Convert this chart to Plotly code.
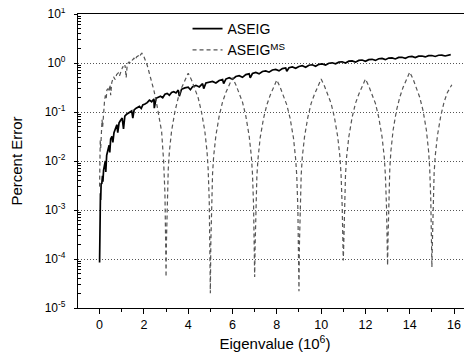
import plotly.graph_objects as go

# ---------------- data ----------------
aseig_x = [0.00, 0.02, 0.04, 0.05, 0.07, 0.10, 0.13, 0.15, 0.18, 0.22, 0.26, 0.28, 0.32, 0.38,
           0.43, 0.46, 0.50, 0.56, 0.60, 0.65, 0.72, 0.78, 0.82, 0.88, 0.95, 1.02, 1.08, 1.14,
           1.22, 1.30, 1.38, 1.45, 1.50, 1.56, 1.65, 1.72, 1.80, 1.88, 1.95, 2.05, 2.15, 2.25,
           2.35, 2.45, 2.47, 2.55, 2.65, 2.75, 2.85, 2.95, 3.05, 3.15, 3.25, 3.35, 3.45, 3.55,
           3.60, 3.70, 3.85, 4.00, 4.10, 4.20, 4.35, 4.50, 4.65, 4.70, 4.80, 4.95, 5.10, 5.25,
           5.40, 5.55, 5.60, 5.70, 5.85, 6.00, 6.15, 6.30, 6.45, 6.60, 6.75, 6.80, 6.90, 7.05,
           7.20, 7.35, 7.50, 7.65, 7.80, 7.95, 8.10, 8.25, 8.40, 8.45, 8.55, 8.70, 8.85, 9.00,
           9.15, 9.30, 9.45, 9.60, 9.75, 9.90, 10.05, 10.20, 10.35, 10.50, 10.65, 10.80, 10.95,
           11.10, 11.25, 11.40, 11.55, 11.70, 11.85, 12.00, 12.15, 12.30, 12.45, 12.60, 12.75,
           12.90, 13.05, 13.20, 13.35, 13.50, 13.65, 13.80, 13.95, 14.10, 14.25, 14.40, 14.55,
           14.70, 14.85, 15.00, 15.15, 15.30, 15.45, 15.60, 15.75, 15.85]
aseig_y = [8.5e-5, 1.0e-3, 2.2e-3, 1.6e-3, 3.5e-3, 3.4e-3, 5.0e-3, 3.8e-3, 6.5e-3, 8.0e-3, 1.0e-2, 6.0e-3, 1.3e-2, 1.7e-2,
           2.1e-2, 1.5e-2, 2.8e-2, 3.2e-2, 2.4e-2, 3.8e-2, 4.5e-2, 5.5e-2, 3.8e-2, 6.0e-2, 6.8e-2, 7.5e-2, 4.5e-2, 8.2e-2,
           9.0e-2, 9.4e-2, 1.0e-1, 1.05e-1, 7.5e-2, 1.1e-1, 1.2e-1, 1.25e-1, 1.3e-1, 1.18e-1, 1.4e-1, 1.45e-1, 1.55e-1, 1.75e-1,
           1.62e-1, 1.85e-1, 1.2e-1, 1.9e-1, 2.0e-1, 2.1e-1, 1.95e-1, 2.3e-1, 2.4e-1, 2.2e-1, 2.5e-1, 2.6e-1, 2.45e-1, 2.8e-1,
           2.1e-1, 2.9e-1, 3.1e-1, 3.2e-1, 2.85e-1, 3.3e-1, 3.5e-1, 3.25e-1, 3.8e-1, 3.0e-1, 3.9e-1, 4.0e-1, 4.2e-1, 3.9e-1,
           4.4e-1, 4.6e-1, 3.8e-1, 4.7e-1, 5.0e-1, 4.65e-1, 5.3e-1, 5.5e-1, 5.1e-1, 5.8e-1, 6.0e-1, 5.0e-1, 6.1e-1, 6.4e-1,
           6.0e-1, 6.7e-1, 6.9e-1, 6.5e-1, 7.2e-1, 7.4e-1, 6.9e-1, 7.7e-1, 7.9e-1, 6.8e-1, 8.0e-1, 8.3e-1, 7.8e-1, 8.5e-1,
           8.8e-1, 8.2e-1, 9.0e-1, 9.2e-1, 8.6e-1, 9.4e-1, 9.6e-1, 9.1e-1, 9.9e-1, 1.01, 0.96, 1.04, 1.06,
           1.0, 1.09, 1.1, 1.04, 1.13, 1.15, 1.08, 1.17, 1.19, 1.13, 1.22, 1.24,
           1.17, 1.26, 1.27, 1.21, 1.3, 1.31, 1.25, 1.34, 1.36, 1.29, 1.38, 1.39,
           1.33, 1.41, 1.42, 1.36, 1.44, 1.45, 1.39, 1.47, 1.48]

aseig_ms_x = [0.00, 0.01, 0.03, 0.05, 0.07, 0.11, 0.14, 0.18, 0.22, 0.26, 0.30, 0.33, 0.38, 0.42,
              0.47, 0.50, 0.55, 0.63, 0.70, 0.77, 0.85, 0.90, 0.98, 1.05, 1.10, 1.15, 1.20, 1.25,
              1.33, 1.40, 1.48, 1.55, 1.60, 1.68, 1.75, 1.80, 1.86, 1.91,
              2.00, 2.15, 2.30, 2.45, 2.60, 2.70, 2.80, 2.89, 2.95, 2.98, 3.00,
              3.02, 3.05, 3.10, 3.15, 3.25, 3.40, 3.55, 3.70, 3.85, 4.00,
              4.15, 4.30, 4.45, 4.60, 4.75, 4.85, 4.90, 4.95, 4.98, 5.00,
              5.02, 5.05, 5.10, 5.15, 5.25, 5.40, 5.55, 5.70, 5.85, 6.00,
              6.15, 6.30, 6.45, 6.60, 6.75, 6.85, 6.90, 6.95, 6.98, 7.00,
              7.02, 7.05, 7.10, 7.15, 7.25, 7.40, 7.55, 7.70, 7.85, 8.00,
              8.15, 8.30, 8.45, 8.60, 8.75, 8.85, 8.90, 8.95, 8.98, 9.00,
              9.02, 9.05, 9.10, 9.15, 9.25, 9.40, 9.55, 9.70, 9.85, 10.00,
              10.15, 10.30, 10.45, 10.60, 10.75, 10.85, 10.90, 10.95, 10.98, 11.00,
              11.02, 11.05, 11.10, 11.15, 11.25, 11.40, 11.55, 11.70, 11.85, 12.00,
              12.15, 12.30, 12.45, 12.60, 12.75, 12.85, 12.90, 12.95, 12.98, 13.00,
              13.02, 13.05, 13.10, 13.15, 13.25, 13.40, 13.55, 13.70, 13.85, 14.00,
              14.15, 14.30, 14.45, 14.60, 14.75, 14.85, 14.90, 14.95, 14.98, 15.00,
              15.02, 15.05, 15.10, 15.15, 15.25, 15.40, 15.55, 15.70, 15.90]
aseig_ms_y = [3.0e-3, 1.0e-2, 2.7e-2, 1.8e-2, 4.5e-2, 6.9e-2, 5.0e-2, 1.3e-1, 1.6e-1, 2.2e-1, 1.9e-1, 2.8e-1, 3.0e-1, 2.6e-1,
              3.6e-1, 2.2e-1, 4.0e-1, 5.2e-1, 4.6e-1, 5.8e-1, 6.3e-1, 5.5e-1, 7.2e-1, 8.5e-1, 7.8e-1, 9.0e-1, 5.0e-1, 9.5e-1,
              1.05, 1.0, 1.15, 1.25, 1.15, 1.35, 1.4, 1.32, 1.5, 1.58,
              1.35, 0.9, 0.5, 0.28, 0.13, 0.075, 0.04, 0.01, 2.2e-3, 2.5e-4, 4.3e-5,
              2.5e-4, 1.55e-3, 6.9e-3, 1.55e-2, 4.1e-2, 1.02e-1, 1.95e-1, 3.1e-1, 4.5e-1, 6.2e-1,
              4.5e-1, 3.1e-1, 1.95e-1, 1.0e-1, 4.1e-2, 1.55e-2, 6.9e-3, 1.55e-3, 2.5e-4, 2.0e-5,
              2.0e-4, 1.26e-3, 5.6e-3, 1.26e-2, 3.3e-2, 8.3e-2, 1.6e-1, 2.5e-1, 3.6e-1, 5.0e-1,
              3.6e-1, 2.5e-1, 1.6e-1, 8.3e-2, 3.3e-2, 1.26e-2, 5.6e-3, 1.26e-3, 2.0e-4, 4.3e-5,
              1.8e-4, 1.1e-3, 5.0e-3, 1.1e-2, 3.0e-2, 7.4e-2, 1.4e-1, 2.2e-1, 3.2e-1, 4.5e-1,
              3.2e-1, 2.2e-1, 1.4e-1, 7.4e-2, 3.0e-2, 1.1e-2, 5.0e-3, 1.1e-3, 1.8e-4, 2.2e-5,
              1.9e-4, 1.2e-3, 5.2e-3, 1.2e-2, 3.1e-2, 7.8e-2, 1.5e-1, 2.3e-1, 3.4e-1, 4.7e-1,
              3.4e-1, 2.3e-1, 1.5e-1, 7.8e-2, 3.1e-2, 1.2e-2, 5.2e-3, 1.2e-3, 1.9e-4, 9.3e-5,
              1.9e-4, 1.2e-3, 5.2e-3, 1.2e-2, 3.1e-2, 7.8e-2, 1.5e-1, 2.3e-1, 3.4e-1, 4.7e-1,
              3.4e-1, 2.3e-1, 1.5e-1, 7.8e-2, 3.1e-2, 1.2e-2, 5.2e-3, 1.2e-3, 1.9e-4, 7.4e-5,
              2.6e-4, 1.6e-3, 7.2e-3, 1.6e-2, 4.3e-2, 1.07e-1, 2.0e-1, 3.2e-1, 4.7e-1, 6.5e-1,
              4.7e-1, 3.2e-1, 2.0e-1, 1.07e-1, 4.3e-2, 1.6e-2, 7.2e-3, 1.6e-3, 2.6e-4, 6.8e-5,
              2.0e-4, 1.26e-3, 5.6e-3, 1.26e-2, 3.3e-2, 8.3e-2, 1.6e-1, 2.5e-1, 3.6e-1]

x_tick_vals = [0, 2, 4, 6, 8, 10, 12, 14, 16]
y_tick_vals = [1e-5, 1e-4, 1e-3, 1e-2, 1e-1, 1e0, 1e1]
y_tick_text = ["10<sup>-5</sup>", "10<sup>-4</sup>", "10<sup>-3</sup>", "10<sup>-2</sup>",
               "10<sup>-1</sup>", "10<sup>0</sup>", "10<sup>1</sup>"]
y_minor_vals = [m * d for d in [1e-5, 1e-4, 1e-3, 1e-2, 1e-1, 1e0] for m in range(2, 10)]

FONT = "Liberation Sans, Arial, sans-serif"

fig = go.Figure()
fig.add_trace(go.Scatter(
    x=aseig_x, y=aseig_y, mode="lines", name="ASEIG",
    line=dict(color="#000000", width=1.7)))
fig.add_trace(go.Scatter(
    x=aseig_ms_x, y=aseig_ms_y, mode="lines", name="ASEIG<sup>MS</sup>",
    line=dict(color="#555555", width=1.2, dash="4px,3px")))

# the page body adds an 8 px offset, so the figure is 8 px smaller on each side
fig.update_layout(
    width=464, height=355,
    margin=dict(l=70, r=0, t=6, b=55, autoexpand=False),
    paper_bgcolor="white", plot_bgcolor="white",
    font=dict(family=FONT, size=12, color="#000000"),
    showlegend=True,
    legend=dict(x=0.278, y=1.003, xanchor="left", yanchor="top",
                bgcolor="rgba(0,0,0,0)", font=dict(size=14), tracegroupgap=0,
                itemwidth=30),
    xaxis=dict(
        range=[-0.974, 16.81], tickvals=x_tick_vals, automargin=False,
        ticks="outside", ticklen=5, tickwidth=1, tickcolor="#000",
        showline=True, linecolor="#000", linewidth=1.2, mirror=True,
        showgrid=False, zeroline=False, ticklabeloverflow="allow",
        minor=dict(dtick=1, tick0=1, ticks="outside", ticklen=3, tickcolor="#000", showgrid=False),
        tickfont=dict(size=12.5),
        title=dict(text="Eigenvalue (10<sup>6</sup>)", font=dict(size=15), standoff=7),
    ),
    yaxis=dict(
        type="log", range=[-5, 1], automargin=False,
        tickvals=y_tick_vals, ticktext=y_tick_text, ticklabelstandoff=6,
        ticklabeloverflow="allow",
        ticks="outside", ticklen=3, tickwidth=1, tickcolor="#000",
        showline=True, linecolor="#000", linewidth=1.2,
        showgrid=True, gridcolor="#555555", griddash="1px,2px", gridwidth=1,
        zeroline=False,
        minor=dict(tickvals=y_minor_vals, ticks="inside", ticklen=3, tickcolor="#000", showgrid=False),
        tickfont=dict(size=12),
        title=dict(text="Percent Error", font=dict(size=15), standoff=20),
    ),
)

fig.write_html("out.html")
